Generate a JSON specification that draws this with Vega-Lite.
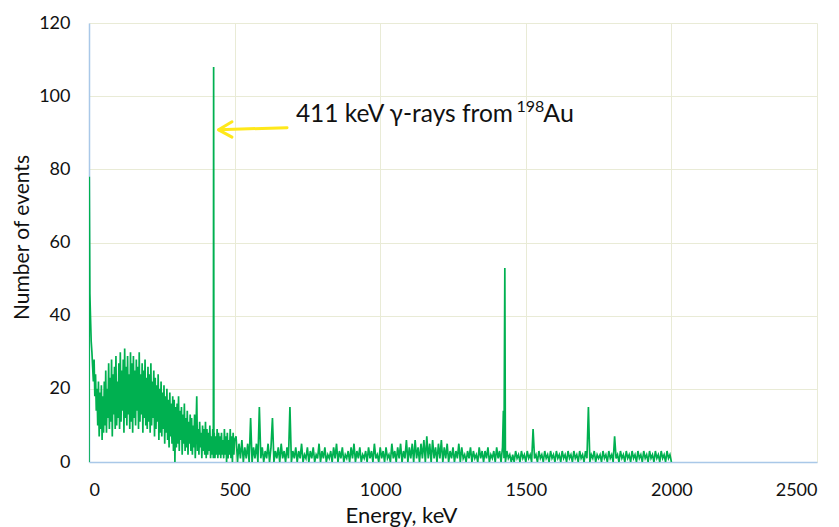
{
"$schema": "https://vega.github.io/schema/vega-lite/v6.json",
"width": 728, "height": 439,
"autosize": {"type": "none"},
"padding": {"left": 89, "top": 23, "right": 22, "bottom": 65},
"background": "white",
"config": {"view": {"stroke": null}, "font": "Lato"},
"encoding": {
 "x": {"field": "e", "type": "quantitative", "scale": {"domain": [0, 2500], "nice": false, "zero": false},
  "axis": {"values": [0,500,1000,1500,2000,2500], "format": "d", "grid": true, "gridColor": "#E9EBD6", "gridWidth": 1, "domainColor": "#A9C8E8", "domainWidth": 1.5, "ticks": false, "labelFont": "Lato", "labelFontSize": 18, "labelColor": "#111", "labelPadding": 19, "title": "Energy, keV", "titleFont": "Lato", "titleFontSize": 22, "titleFontWeight": "normal", "titleColor": "#111", "titlePadding": 6, "titleX": 312, "titleAlign": "center"}},
 "y": {"field": "n", "type": "quantitative", "scale": {"domain": [0, 120], "nice": false},
  "axis": {"values": [0,20,40,60,80,100,120], "format": "d", "grid": true, "gridColor": "#E9EBD6", "gridWidth": 1, "domainColor": "#A9C8E8", "domainWidth": 1.5, "ticks": false, "labelFont": "Lato", "labelFontSize": 18, "labelColor": "#111", "labelPadding": 19, "title": "Number of events", "titleFont": "Lato", "titleFontSize": 21, "titleFontWeight": "normal", "titleColor": "#111", "titlePadding": 6, "titleY": 214, "titleAlign": "center"}}
},
"layer": [
{
 "data": {"values": [
{"e":0,"n":0},{"e":1,"n":78},{"e":3,"n":46},
{"e":5,"n":40},{"e":7.5,"n":33},{"e":10,"n":30},{"e":12.5,"n":26},{"e":15,"n":22},{"e":17.5,"n":28},{"e":20,"n":18},{"e":22.5,"n":24},{"e":25,"n":14},{"e":27.5,"n":20},{"e":30,"n":10},{"e":32.5,"n":22},{"e":35,"n":7},{"e":37.5,"n":19},{"e":40,"n":9},{"e":42.5,"n":21},{"e":45,"n":6},{"e":47.5,"n":18},{"e":50,"n":8},
{"e":52.5,"n":22},{"e":55,"n":10},{"e":57.5,"n":25},{"e":60,"n":8},{"e":62.5,"n":20},{"e":65,"n":12},{"e":67.5,"n":27},{"e":70,"n":9},{"e":72.5,"n":23},{"e":75,"n":11},{"e":77.5,"n":28},{"e":80,"n":7},{"e":82.5,"n":24},{"e":85,"n":13},{"e":87.5,"n":26},{"e":90,"n":9},{"e":92.5,"n":29},{"e":95,"n":10},{"e":97.5,"n":22},{"e":100,"n":12},
{"e":102.5,"n":27},{"e":105,"n":9},{"e":107.5,"n":30},{"e":110,"n":11},{"e":112.5,"n":25},{"e":115,"n":14},{"e":117.5,"n":28},{"e":120,"n":8},{"e":122.5,"n":31},{"e":125,"n":12},{"e":127.5,"n":26},{"e":130,"n":10},{"e":132.5,"n":29},{"e":135,"n":13},{"e":137.5,"n":24},{"e":140,"n":9},{"e":142.5,"n":30},{"e":145,"n":11},{"e":147.5,"n":27},{"e":150,"n":8},
{"e":152.5,"n":29},{"e":155,"n":12},{"e":157.5,"n":25},{"e":160,"n":10},{"e":162.5,"n":28},{"e":165,"n":14},{"e":167.5,"n":26},{"e":170,"n":9},{"e":172.5,"n":30},{"e":175,"n":11},{"e":177.5,"n":24},{"e":180,"n":13},{"e":182.5,"n":27},{"e":185,"n":8},{"e":187.5,"n":25},{"e":190,"n":12},{"e":192.5,"n":28},{"e":195,"n":10},{"e":197.5,"n":23},{"e":200,"n":9},
{"e":202.5,"n":26},{"e":205,"n":11},{"e":207.5,"n":24},{"e":210,"n":8},{"e":212.5,"n":27},{"e":215,"n":10},{"e":217.5,"n":22},{"e":220,"n":12},{"e":222.5,"n":25},{"e":225,"n":7},{"e":227.5,"n":23},{"e":230,"n":9},{"e":232.5,"n":21},{"e":235,"n":11},{"e":237.5,"n":24},{"e":240,"n":6},{"e":242.5,"n":20},{"e":245,"n":8},{"e":247.5,"n":22},{"e":250,"n":7},
{"e":252.5,"n":19},{"e":255,"n":9},{"e":257.5,"n":21},{"e":260,"n":5},{"e":262.5,"n":18},{"e":265,"n":8},{"e":267.5,"n":20},{"e":270,"n":6},{"e":272.5,"n":17},{"e":275,"n":4},{"e":277.5,"n":19},{"e":280,"n":7},{"e":282.5,"n":16},{"e":285,"n":5},{"e":287.5,"n":18},{"e":290,"n":3},{"e":292.5,"n":17},{"e":295,"n":0},{"e":297.5,"n":15},{"e":300,"n":4},
{"e":302.5,"n":16},{"e":305,"n":5},{"e":307.5,"n":18},{"e":310,"n":3},{"e":312.5,"n":14},{"e":315,"n":6},{"e":317.5,"n":15},{"e":320,"n":2},{"e":322.5,"n":13},{"e":325,"n":5},{"e":327.5,"n":16},{"e":330,"n":3},{"e":332.5,"n":12},{"e":335,"n":4},{"e":337.5,"n":14},{"e":340,"n":2},{"e":342.5,"n":11},{"e":345,"n":5},{"e":347.5,"n":13},{"e":350,"n":3},
{"e":352.5,"n":12},{"e":355,"n":2},{"e":357.5,"n":10},{"e":360,"n":4},{"e":362.5,"n":13},{"e":365,"n":1},{"e":367.5,"n":9},{"e":370,"n":18},{"e":372.5,"n":3},{"e":375,"n":9},{"e":377.5,"n":2},{"e":380,"n":11},{"e":382.5,"n":4},{"e":385,"n":8},{"e":387.5,"n":1},{"e":390,"n":10},{"e":392.5,"n":3},{"e":395,"n":9},{"e":397.5,"n":2},{"e":400,"n":11},
{"e":402.5,"n":1},{"e":405,"n":9},{"e":407.5,"n":2},{"e":410,"n":8},{"e":412.5,"n":3},{"e":415,"n":10},{"e":417.5,"n":1},{"e":420,"n":7},{"e":422.5,"n":2},{"e":425,"n":9},{"e":427,"n":1},{"e":428,"n":108},{"e":429,"n":2},{"e":430,"n":8},{"e":432.5,"n":1},{"e":435,"n":7},{"e":437.5,"n":2},{"e":440,"n":9},{"e":442.5,"n":1},{"e":445,"n":8},{"e":447.5,"n":2},{"e":450,"n":7},
{"e":452.5,"n":1},{"e":455,"n":8},{"e":457.5,"n":2},{"e":460,"n":6},{"e":462.5,"n":1},{"e":465,"n":9},{"e":467.5,"n":2},{"e":470,"n":7},{"e":472.5,"n":0},{"e":475,"n":8},{"e":477.5,"n":1},{"e":480,"n":6},{"e":482.5,"n":2},{"e":485,"n":9},{"e":487.5,"n":1},{"e":490,"n":7},{"e":492.5,"n":0},{"e":495,"n":8},{"e":497.5,"n":2},{"e":500,"n":6},
{"e":505,"n":7},{"e":510,"n":0},{"e":515,"n":5},{"e":520,"n":1},{"e":525,"n":6},{"e":530,"n":0},{"e":535,"n":4},{"e":540,"n":1},{"e":545,"n":5},{"e":550,"n":0},
{"e":555,"n":12},{"e":560,"n":0},{"e":565,"n":4},{"e":570,"n":1},{"e":575,"n":5},{"e":580,"n":0},{"e":585,"n":15},{"e":590,"n":1},{"e":595,"n":4},{"e":600,"n":0},
{"e":605,"n":3},{"e":610,"n":1},{"e":615,"n":5},{"e":620,"n":0},{"e":625,"n":4},{"e":630,"n":12},{"e":635,"n":0},{"e":640,"n":3},{"e":645,"n":1},{"e":650,"n":4},
{"e":655,"n":0},{"e":660,"n":5},{"e":665,"n":1},{"e":670,"n":3},{"e":675,"n":0},{"e":680,"n":4},{"e":685,"n":1},{"e":690,"n":15},{"e":695,"n":0},{"e":700,"n":3},
{"e":705,"n":1},{"e":710,"n":4},{"e":715,"n":0},{"e":720,"n":3},{"e":725,"n":1},{"e":730,"n":5},{"e":735,"n":0},{"e":740,"n":2},{"e":745,"n":1},{"e":750,"n":4},
{"e":755,"n":0},{"e":760,"n":3},{"e":765,"n":1},{"e":770,"n":4},{"e":775,"n":0},{"e":780,"n":2},{"e":785,"n":1},{"e":790,"n":5},{"e":795,"n":0},{"e":800,"n":3},
{"e":805,"n":1},{"e":810,"n":4},{"e":815,"n":0},{"e":820,"n":2},{"e":825,"n":1},{"e":830,"n":3},{"e":835,"n":0},{"e":840,"n":4},{"e":845,"n":1},{"e":850,"n":5},
{"e":855,"n":0},{"e":860,"n":3},{"e":865,"n":1},{"e":870,"n":4},{"e":875,"n":0},{"e":880,"n":2},{"e":885,"n":1},{"e":890,"n":3},{"e":895,"n":0},{"e":900,"n":4},
{"e":905,"n":1},{"e":910,"n":5},{"e":915,"n":0},{"e":920,"n":3},{"e":925,"n":1},{"e":930,"n":4},{"e":935,"n":0},{"e":940,"n":2},{"e":945,"n":1},{"e":950,"n":3},
{"e":955,"n":0},{"e":960,"n":4},{"e":965,"n":1},{"e":970,"n":3},{"e":975,"n":0},{"e":980,"n":5},{"e":985,"n":1},{"e":990,"n":2},{"e":995,"n":0},{"e":1000,"n":4},
{"e":1005,"n":1},{"e":1010,"n":3},{"e":1015,"n":0},{"e":1020,"n":4},{"e":1025,"n":1},{"e":1030,"n":2},{"e":1035,"n":0},{"e":1040,"n":5},{"e":1045,"n":1},{"e":1050,"n":3},
{"e":1055,"n":0},{"e":1060,"n":4},{"e":1065,"n":1},{"e":1070,"n":5},{"e":1075,"n":0},{"e":1080,"n":3},{"e":1085,"n":1},{"e":1090,"n":6},{"e":1095,"n":0},{"e":1100,"n":4},
{"e":1105,"n":1},{"e":1110,"n":5},{"e":1115,"n":0},{"e":1120,"n":6},{"e":1125,"n":1},{"e":1130,"n":4},{"e":1135,"n":0},{"e":1140,"n":5},{"e":1145,"n":1},{"e":1150,"n":6},
{"e":1155,"n":0},{"e":1160,"n":7},{"e":1165,"n":1},{"e":1170,"n":5},{"e":1175,"n":0},{"e":1180,"n":6},{"e":1185,"n":1},{"e":1190,"n":4},{"e":1195,"n":0},{"e":1200,"n":5},
{"e":1205,"n":1},{"e":1210,"n":6},{"e":1215,"n":0},{"e":1220,"n":4},{"e":1225,"n":1},{"e":1230,"n":5},{"e":1235,"n":0},{"e":1240,"n":3},{"e":1245,"n":1},{"e":1250,"n":4},
{"e":1255,"n":0},{"e":1260,"n":3},{"e":1265,"n":1},{"e":1270,"n":5},{"e":1275,"n":0},{"e":1280,"n":4},{"e":1285,"n":1},{"e":1290,"n":2},{"e":1295,"n":0},{"e":1300,"n":3},
{"e":1305,"n":1},{"e":1310,"n":4},{"e":1315,"n":0},{"e":1320,"n":3},{"e":1325,"n":1},{"e":1330,"n":2},{"e":1335,"n":0},{"e":1340,"n":4},{"e":1345,"n":1},{"e":1350,"n":3},
{"e":1355,"n":0},{"e":1360,"n":3},{"e":1365,"n":1},{"e":1370,"n":4},{"e":1375,"n":0},{"e":1380,"n":2},{"e":1385,"n":1},{"e":1390,"n":3},{"e":1395,"n":0},{"e":1400,"n":4},
{"e":1405,"n":1},{"e":1410,"n":3},{"e":1415,"n":0},{"e":1420,"n":4},{"e":1423,"n":14},{"e":1425,"n":1},{"e":1428,"n":53},{"e":1430,"n":0},{"e":1435,"n":3},{"e":1440,"n":1},{"e":1445,"n":2},{"e":1450,"n":0},
{"e":1455,"n":2},{"e":1460,"n":0},{"e":1465,"n":3},{"e":1470,"n":1},{"e":1475,"n":2},{"e":1480,"n":0},{"e":1485,"n":3},{"e":1490,"n":1},{"e":1495,"n":2},{"e":1500,"n":0},
{"e":1505,"n":3},{"e":1510,"n":1},{"e":1515,"n":2},{"e":1520,"n":0},{"e":1525,"n":9},{"e":1530,"n":1},{"e":1535,"n":2},{"e":1540,"n":0},{"e":1545,"n":3},{"e":1550,"n":1},
{"e":1555,"n":2},{"e":1560,"n":0},{"e":1565,"n":3},{"e":1570,"n":1},{"e":1575,"n":2},{"e":1580,"n":0},{"e":1585,"n":3},{"e":1590,"n":1},{"e":1595,"n":2},{"e":1600,"n":0},
{"e":1605,"n":3},{"e":1610,"n":1},{"e":1615,"n":2},{"e":1620,"n":0},{"e":1625,"n":3},{"e":1630,"n":1},{"e":1635,"n":2},{"e":1640,"n":0},{"e":1645,"n":3},{"e":1650,"n":1},
{"e":1655,"n":2},{"e":1660,"n":0},{"e":1665,"n":3},{"e":1670,"n":1},{"e":1675,"n":2},{"e":1680,"n":0},{"e":1685,"n":3},{"e":1690,"n":1},{"e":1695,"n":2},{"e":1700,"n":0},
{"e":1705,"n":3},{"e":1710,"n":1},{"e":1715,"n":15},{"e":1720,"n":0},{"e":1725,"n":2},{"e":1730,"n":1},{"e":1735,"n":3},{"e":1740,"n":0},{"e":1745,"n":2},{"e":1750,"n":1},
{"e":1755,"n":2},{"e":1760,"n":0},{"e":1765,"n":3},{"e":1770,"n":1},{"e":1775,"n":2},{"e":1780,"n":0},{"e":1785,"n":3},{"e":1790,"n":1},{"e":1795,"n":2},{"e":1800,"n":0},
{"e":1805,"n":7},{"e":1810,"n":1},{"e":1815,"n":2},{"e":1820,"n":0},{"e":1825,"n":3},{"e":1830,"n":1},{"e":1835,"n":2},{"e":1840,"n":0},{"e":1845,"n":3},{"e":1850,"n":1},
{"e":1855,"n":2},{"e":1860,"n":0},{"e":1865,"n":3},{"e":1870,"n":1},{"e":1875,"n":2},{"e":1880,"n":0},{"e":1885,"n":3},{"e":1890,"n":1},{"e":1895,"n":2},{"e":1900,"n":0},
{"e":1905,"n":3},{"e":1910,"n":1},{"e":1915,"n":2},{"e":1920,"n":0},{"e":1925,"n":3},{"e":1930,"n":1},{"e":1935,"n":2},{"e":1940,"n":0},{"e":1945,"n":3},{"e":1950,"n":1},
{"e":1955,"n":2},{"e":1960,"n":0},{"e":1965,"n":3},{"e":1970,"n":1},{"e":1975,"n":2},{"e":1980,"n":0},{"e":1985,"n":3},{"e":1990,"n":1},{"e":1995,"n":2},{"e":2000,"n":0}
 ]},
 "mark": {"type": "line", "color": "#00B050", "strokeWidth": 1.7, "clip": true},
 "encoding": {}
},
{
 "data": {"values": [
  {"p": "shaft", "o": 1, "e": 445, "n": 90.8},
  {"p": "shaft", "o": 2, "e": 680, "n": 91.4},
  {"p": "head", "o": 1, "e": 491, "n": 93.0},
  {"p": "head", "o": 2, "e": 445, "n": 90.8},
  {"p": "head", "o": 3, "e": 491, "n": 88.8}
 ]},
 "mark": {"type": "line", "color": "#FFE81A", "strokeWidth": 3, "strokeCap": "round", "strokeJoin": "round"},
 "encoding": {"detail": {"field": "p"}, "order": {"field": "o"}}
},
{
 "data": {"values": [{"e": 1456, "n": 93, "t": "411 keV γ-rays from"}]},
 "mark": {"type": "text", "align": "right", "baseline": "alphabetic", "fontSize": 24.5, "font": "Lato", "color": "#111"},
 "encoding": {"text": {"field": "t"}}
},
{
 "data": {"values": [{"e": 1468, "n": 95.6, "t": "198"}]},
 "mark": {"type": "text", "align": "left", "baseline": "alphabetic", "fontSize": 16, "font": "Lato", "color": "#111"},
 "encoding": {"text": {"field": "t"}}
},
{
 "data": {"values": [{"e": 1560, "n": 93, "t": "Au"}]},
 "mark": {"type": "text", "align": "left", "baseline": "alphabetic", "fontSize": 25, "font": "Lato", "color": "#111"},
 "encoding": {"text": {"field": "t"}}
}
]
}
